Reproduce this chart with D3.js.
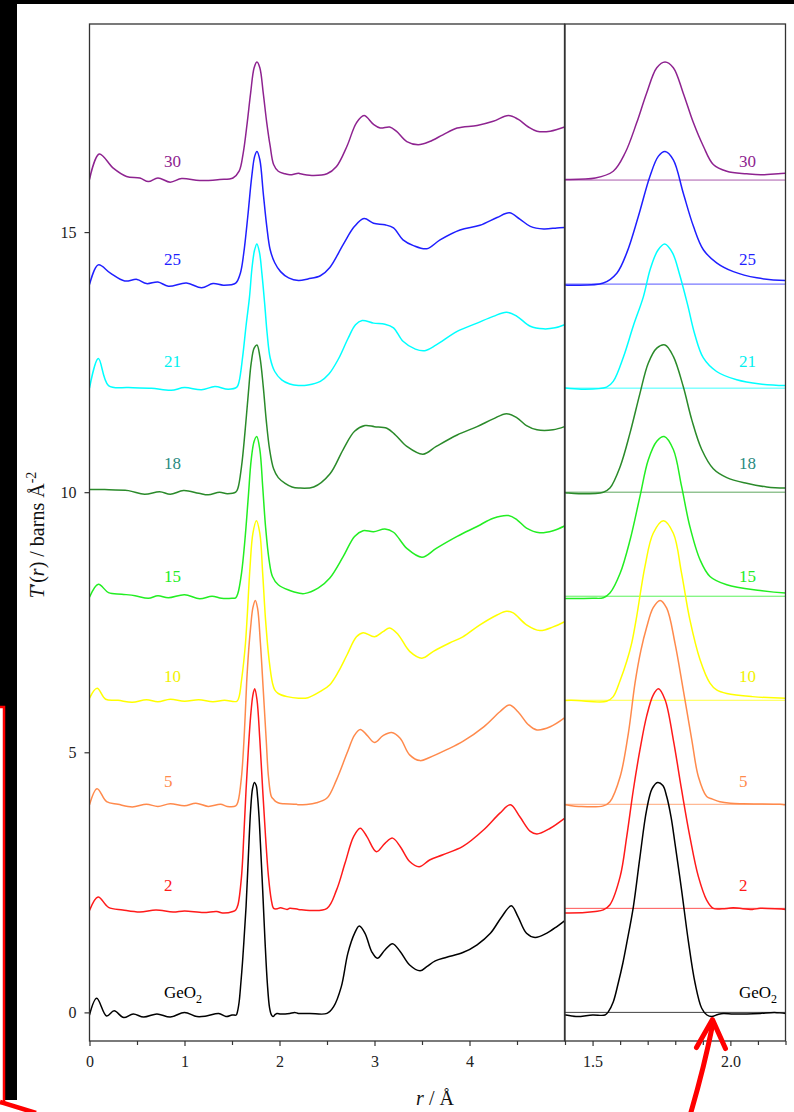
<!DOCTYPE html>
<html>
<head>
<meta charset="utf-8">
<script src="https://cdn.jsdelivr.net/npm/d3@7"></script>
<style>
  html, body { margin: 0; padding: 0; background: #fff; }
  svg { display: block; }
</style>
</head>
<body>
<svg id="fig" width="794" height="1112"></svg>
<script>
// ---- series: T'(r) in barns Å^-2, each curve listed as [r (Å), T'(r)] ----
const seriesNames   = ["GeO2", "2", "5", "10", "15", "18", "21", "25", "30"];
const seriesOffsets = [0, 2, 4, 6, 8, 10, 12, 14, 16];

const curveGeO2 = [[0,-0.05],[0.076,0.27],[0.18,-0.07],[0.26,0.03],[0.36,-0.1],[0.46,-0.03],[0.57,-0.09],[0.71,-0.03],[0.85,-0.09],[1.0,0.0],[1.13,-0.08],[1.23,-0.07],[1.36,-0.02],[1.44,-0.08],[1.5,-0.05],[1.545,-0.05],[1.557,0.01],[1.575,0.2],[1.593,0.56],[1.61,0.95],[1.624,1.33],[1.648,2.03],[1.672,2.99],[1.696,3.89],[1.716,4.3],[1.736,4.42],[1.755,4.36],[1.769,4.15],[1.785,3.75],[1.799,3.25],[1.823,2.35],[1.847,1.39],[1.872,0.56],[1.896,0.08],[1.915,-0.05],[1.932,-0.08],[1.955,-0.04],[1.974,-0.02],[2.01,-0.03],[2.06,-0.03],[2.108,-0.02],[2.16,0.0],[2.2,-0.02],[2.32,-0.02],[2.5,-0.02],[2.57,0.11],[2.65,0.49],[2.72,1.14],[2.79,1.52],[2.84,1.66],[2.9,1.52],[2.97,1.17],[3.03,1.04],[3.11,1.2],[3.19,1.32],[3.27,1.17],[3.37,0.91],[3.48,0.8],[3.55,0.88],[3.64,0.99],[3.76,1.06],[3.93,1.15],[4.08,1.3],[4.22,1.52],[4.34,1.84],[4.44,2.05],[4.51,1.84],[4.6,1.52],[4.69,1.44],[4.81,1.52],[4.92,1.65],[5.0,1.76]];

const curve2 = [[0,-0.04],[0.09,0.22],[0.2,0.02],[0.35,-0.03],[0.53,-0.07],[0.7,-0.03],[0.88,-0.07],[1.0,-0.05],[1.2,-0.08],[1.34,-0.06],[1.4,-0.09],[1.51,-0.06],[1.539,-0.03],[1.563,0.07],[1.6,0.61],[1.624,1.38],[1.648,2.28],[1.672,3.05],[1.696,3.69],[1.72,4.1],[1.739,4.22],[1.763,4.01],[1.793,3.24],[1.823,2.28],[1.853,1.38],[1.884,0.61],[1.914,0.16],[1.938,0.0],[1.97,-0.01],[2.01,0.01],[2.08,-0.02],[2.108,0.0],[2.2,-0.02],[2.32,-0.04],[2.5,0.0],[2.6,0.35],[2.69,0.87],[2.78,1.38],[2.85,1.54],[2.92,1.38],[3.02,1.09],[3.11,1.25],[3.19,1.35],[3.27,1.19],[3.37,0.9],[3.47,0.8],[3.58,0.93],[3.72,1.03],[3.93,1.19],[4.15,1.51],[4.32,1.83],[4.43,1.99],[4.53,1.76],[4.64,1.48],[4.71,1.43],[4.85,1.54],[5.0,1.73]];

const curve5 = [[0,-0.01],[0.08,0.3],[0.18,0.05],[0.3,0.0],[0.45,-0.05],[0.6,0.0],[0.72,-0.04],[0.85,0.01],[1.0,-0.03],[1.12,0.02],[1.25,-0.04],[1.38,0.0],[1.45,-0.04],[1.539,-0.03],[1.563,0.05],[1.6,0.53],[1.63,1.37],[1.654,2.33],[1.675,2.95],[1.696,3.4],[1.72,3.78],[1.745,3.92],[1.769,3.77],[1.799,3.1],[1.829,2.2],[1.86,1.24],[1.884,0.53],[1.914,0.15],[1.935,0.1],[1.962,0.05],[2.0,0.02],[2.047,0.01],[2.18,0.0],[2.2,-0.01],[2.39,0.03],[2.5,0.12],[2.6,0.47],[2.71,0.98],[2.79,1.33],[2.85,1.44],[2.92,1.33],[3.0,1.19],[3.09,1.32],[3.18,1.38],[3.27,1.27],[3.37,0.95],[3.48,0.84],[3.58,0.9],[3.76,1.05],[3.93,1.21],[4.15,1.49],[4.32,1.78],[4.42,1.91],[4.51,1.78],[4.62,1.53],[4.71,1.43],[4.85,1.49],[5.0,1.66]];

const curve10 = [[0,0.04],[0.08,0.23],[0.17,0.02],[0.3,0.0],[0.45,-0.04],[0.6,0.01],[0.72,-0.03],[0.85,0.02],[1.0,-0.02],[1.15,0.01],[1.3,-0.03],[1.42,0.0],[1.551,-0.02],[1.575,0.07],[1.6,0.38],[1.624,0.75],[1.642,1.1],[1.66,1.61],[1.69,2.57],[1.72,3.21],[1.757,3.45],[1.793,3.21],[1.823,2.44],[1.853,1.55],[1.89,0.78],[1.926,0.33],[1.95,0.2],[1.987,0.13],[2.08,0.07],[2.2,0.04],[2.3,0.05],[2.43,0.17],[2.53,0.3],[2.62,0.55],[2.71,0.87],[2.81,1.22],[2.88,1.3],[3.0,1.22],[3.09,1.32],[3.16,1.39],[3.25,1.26],[3.37,0.94],[3.5,0.81],[3.62,0.94],[3.79,1.1],[3.93,1.22],[4.11,1.45],[4.29,1.64],[4.39,1.71],[4.46,1.68],[4.6,1.45],[4.74,1.34],[4.88,1.41],[5.0,1.51]];

const curve15 = [[0,-0.02],[0.093,0.23],[0.2,0.07],[0.34,0.04],[0.48,0.01],[0.62,-0.04],[0.72,0.01],[0.83,-0.03],[1.0,0.03],[1.16,-0.05],[1.29,0.0],[1.39,-0.04],[1.5,-0.04],[1.539,-0.03],[1.563,0.06],[1.6,0.44],[1.636,1.08],[1.672,1.92],[1.702,2.62],[1.733,2.98],[1.76,3.07],[1.793,2.82],[1.823,2.11],[1.853,1.34],[1.89,0.7],[1.926,0.38],[1.987,0.22],[2.108,0.11],[2.2,0.06],[2.26,0.05],[2.41,0.16],[2.53,0.35],[2.67,0.76],[2.79,1.15],[2.88,1.26],[2.99,1.24],[3.11,1.29],[3.2,1.23],[3.34,0.92],[3.5,0.75],[3.65,0.92],[3.87,1.15],[4.08,1.34],[4.25,1.5],[4.41,1.55],[4.5,1.47],[4.6,1.31],[4.74,1.22],[4.88,1.26],[5.0,1.35]];

const curve18 = [[0,0.05],[0.16,0.05],[0.41,0.03],[0.58,-0.04],[0.74,0.01],[0.85,-0.04],[0.99,0.03],[1.15,-0.02],[1.25,-0.05],[1.37,0.0],[1.45,-0.03],[1.539,0.0],[1.563,0.08],[1.6,0.49],[1.636,1.14],[1.672,1.9],[1.702,2.48],[1.733,2.77],[1.763,2.83],[1.793,2.61],[1.829,2.03],[1.86,1.39],[1.896,0.82],[1.938,0.45],[1.987,0.28],[2.059,0.17],[2.132,0.1],[2.2,0.08],[2.36,0.1],[2.53,0.35],[2.67,0.82],[2.79,1.17],[2.9,1.28],[3.0,1.26],[3.13,1.23],[3.22,1.1],[3.34,0.88],[3.51,0.73],[3.65,0.88],[3.87,1.1],[4.08,1.26],[4.25,1.41],[4.39,1.51],[4.5,1.43],[4.6,1.28],[4.71,1.2],[4.88,1.2],[5.0,1.26]];

const curve21 = [[0,0.0],[0.093,0.57],[0.2,0.05],[0.41,0.01],[0.65,0.0],[0.86,-0.04],[1.0,0.01],[1.18,-0.03],[1.32,0.03],[1.46,-0.02],[1.551,0.02],[1.575,0.13],[1.612,0.6],[1.648,1.2],[1.684,1.75],[1.71,2.3],[1.737,2.65],[1.762,2.77],[1.79,2.6],[1.815,2.2],[1.845,1.6],[1.87,1.05],[1.902,0.58],[1.95,0.32],[2.023,0.16],[2.108,0.08],[2.2,0.05],[2.3,0.06],[2.43,0.13],[2.52,0.27],[2.62,0.56],[2.72,0.95],[2.8,1.22],[2.87,1.3],[2.99,1.25],[3.11,1.23],[3.2,1.16],[3.3,0.9],[3.43,0.75],[3.53,0.72],[3.65,0.83],[3.87,1.09],[4.08,1.25],[4.25,1.38],[4.39,1.46],[4.5,1.38],[4.64,1.19],[4.78,1.14],[4.9,1.16],[5.0,1.22]];

const curve25 = [[0,-0.01],[0.093,0.37],[0.22,0.21],[0.37,0.06],[0.5,0.09],[0.6,0.01],[0.72,0.04],[0.83,-0.04],[1.02,0.02],[1.18,-0.07],[1.3,0.01],[1.41,-0.02],[1.539,0.02],[1.588,0.21],[1.624,0.6],[1.666,1.3],[1.708,2.07],[1.739,2.46],[1.763,2.55],[1.793,2.39],[1.829,1.75],[1.866,1.11],[1.902,0.66],[1.95,0.41],[2.011,0.24],[2.096,0.12],[2.2,0.07],[2.3,0.1],[2.43,0.16],[2.53,0.32],[2.67,0.76],[2.79,1.11],[2.89,1.26],[2.99,1.17],[3.11,1.14],[3.2,1.08],[3.3,0.85],[3.41,0.74],[3.55,0.68],[3.69,0.85],[3.9,1.04],[4.11,1.13],[4.29,1.28],[4.42,1.37],[4.53,1.25],[4.64,1.11],[4.78,1.06],[4.92,1.08],[5.0,1.09]];

const curve30 = [[0,0.01],[0.103,0.5],[0.25,0.23],[0.39,0.07],[0.53,0.04],[0.62,-0.03],[0.72,0.04],[0.85,-0.04],[0.97,0.03],[1.16,-0.01],[1.37,0.01],[1.51,0.04],[1.575,0.17],[1.618,0.52],[1.66,1.1],[1.696,1.67],[1.733,2.16],[1.763,2.27],[1.793,2.16],[1.829,1.67],[1.866,1.1],[1.902,0.65],[1.938,0.3],[1.987,0.17],[2.059,0.12],[2.11,0.1],[2.2,0.13],[2.22,0.12],[2.34,0.09],[2.5,0.12],[2.6,0.26],[2.71,0.65],[2.81,1.1],[2.89,1.24],[2.99,1.07],[3.06,1.0],[3.16,1.02],[3.23,0.94],[3.34,0.74],[3.46,0.68],[3.58,0.74],[3.72,0.87],[3.87,1.0],[4.08,1.05],[4.25,1.13],[4.41,1.24],[4.51,1.17],[4.62,1.02],[4.71,0.94],[4.85,0.94],[5.0,1.02]];

const seriesCurves = [curveGeO2, curve2, curve5, curve10, curve15, curve18, curve21, curve25, curve30];

// axis ticks
const yTicks          = [0, 5, 10, 15];
const xTicksMain      = [0, 1, 2, 3, 4];
const xTicksMainMinor = [0.5, 1.5, 2.5, 3.5, 4.5];
const xTicksZoom      = [1.5, 2.0];
const xTicksZoomMinor = [1.4, 1.6, 1.7, 1.8, 1.9, 2.1, 2.2];

// ---- styling ----
const lineColors  = ["#000000", "#ff1a1a", "#ff8a4c", "#ffff00", "#22ee22", "#2a8a2a", "#00ffff", "#1f1fff", "#8e2390"];
const labelColors = ["#000000", "#ff1a1a", "#ff8a4c", "#f2f200", "#22ee22", "#2a8a80", "#00f0f0", "#1f1fff", "#8e2390"];
const labelLift   = [14, 17, 17, 18, 14, 23, 21, 19, 13];   // px above each curve's zero line
const FONT = "'Liberation Serif', 'Times New Roman', serif";

const svg = d3.select("#fig");

// page furniture around the figure
svg.append("rect").attr("x", 0).attr("y", 0).attr("width", 794).attr("height", 1112).attr("fill", "#fff");
svg.append("rect").attr("x", 0).attr("y", 0).attr("width", 17).attr("height", 1100).attr("fill", "#000");
svg.append("rect").attr("x", 0).attr("y", 0).attr("width", 794).attr("height", 4).attr("fill", "#000");
svg.append("rect").attr("x", -6).attr("y", 707).attr("width", 10).attr("height", 396)
   .attr("fill", "#fff").attr("stroke", "#ff0000").attr("stroke-width", 2.5);
svg.append("line").attr("x1", 0).attr("y1", 1102).attr("x2", 36).attr("y2", 1113)
   .attr("stroke", "#ff0000").attr("stroke-width", 4.5);

// ---- scales ----
const plotLeft = 89.5, plotMid = 564.5, plotRight = 785.5, plotTop = 24, plotBottom = 1041;
const xMain = d3.scaleLinear().domain([0, 5]).range([plotLeft, plotMid]);
const xZoom = d3.scaleLinear().domain([1.4, 2.2]).range([plotMid + 0.5, plotRight]);
const y = d3.scaleLinear().domain([-0.55, 19.0]).range([plotBottom, plotTop]);

const defs = svg.append("defs");
defs.append("clipPath").attr("id", "clipMain").append("rect")
    .attr("x", plotLeft).attr("y", plotTop).attr("width", plotMid - plotLeft).attr("height", plotBottom - plotTop);
defs.append("clipPath").attr("id", "clipZoom").append("rect")
    .attr("x", plotMid + 0.5).attr("y", plotTop).attr("width", plotRight - plotMid - 0.5).attr("height", plotBottom - plotTop);

function lineFor(xs, off) {
  return d3.line()
    .x(d => xs(d[0]))
    .y(d => y(d[1] + off))
    .curve(d3.curveCatmullRom.alpha(0.5));
}

// ---- main panel ----
const gMain = svg.append("g").attr("clip-path", "url(#clipMain)");
seriesCurves.forEach((pts, i) => {
  gMain.append("path")
    .attr("d", lineFor(xMain, seriesOffsets[i])(pts))
    .attr("fill", "none")
    .attr("stroke", lineColors[i])
    .attr("stroke-width", 1.5)
    .attr("stroke-linejoin", "round");
});

// ---- zoomed panel: zero lines then curves ----
const gZoom = svg.append("g").attr("clip-path", "url(#clipZoom)");
seriesOffsets.forEach((off, i) => {
  gZoom.append("line")
    .attr("x1", xZoom(1.4)).attr("x2", xZoom(2.2))
    .attr("y1", y(off)).attr("y2", y(off))
    .attr("stroke", lineColors[i]).attr("stroke-width", 1).attr("stroke-opacity", 0.75);
});
seriesCurves.forEach((pts, i) => {
  gZoom.append("path")
    .attr("d", lineFor(xZoom, seriesOffsets[i])(pts))
    .attr("fill", "none")
    .attr("stroke", lineColors[i])
    .attr("stroke-width", 1.5)
    .attr("stroke-linejoin", "round");
});

// ---- curve labels ----
function addLabel(x, i) {
  const t = svg.append("text")
    .attr("x", x).attr("y", y(seriesOffsets[i]) - labelLift[i])
    .attr("font-family", FONT).attr("font-size", 17)
    .attr("fill", labelColors[i]);
  if (seriesNames[i] === "GeO2") {
    t.append("tspan").text("GeO");
    t.append("tspan").attr("font-size", 12).attr("dy", 5).text("2");
  } else {
    t.text(seriesNames[i]);
  }
}
seriesNames.forEach((_, i) => { addLabel(164, i); addLabel(739, i); });

// ---- frames ----
svg.append("rect").attr("x", plotLeft).attr("y", plotTop).attr("width", plotMid - plotLeft).attr("height", plotBottom - plotTop)
   .attr("fill", "none").attr("stroke", "#333").attr("stroke-width", 1.3);
svg.append("rect").attr("x", plotMid + 0.5).attr("y", plotTop).attr("width", plotRight - plotMid - 0.5).attr("height", plotBottom - plotTop)
   .attr("fill", "none").attr("stroke", "#333").attr("stroke-width", 1.3);

// ---- axes ----
function styleAxis(g) {
  g.select(".domain").remove();
  g.selectAll("line").attr("stroke", "#333").attr("stroke-width", 1.2);
  g.selectAll("text").attr("font-family", FONT).attr("font-size", 16).attr("fill", "#222");
}
svg.append("g").attr("transform", `translate(0,${plotBottom})`)
   .call(d3.axisBottom(xMain).tickValues(xTicksMain).tickSize(5).tickPadding(10).tickFormat(d3.format("d")))
   .call(styleAxis);
svg.append("g").attr("transform", `translate(0,${plotBottom})`)
   .call(d3.axisBottom(xMain).tickValues(xTicksMainMinor).tickSize(4).tickFormat(""))
   .call(styleAxis);
svg.append("g").attr("transform", `translate(0,${plotBottom})`)
   .call(d3.axisBottom(xZoom).tickValues(xTicksZoom).tickSize(5).tickPadding(10).tickFormat(d3.format(".1f")))
   .call(styleAxis);
svg.append("g").attr("transform", `translate(0,${plotBottom})`)
   .call(d3.axisBottom(xZoom).tickValues(xTicksZoomMinor).tickSize(4).tickFormat(""))
   .call(styleAxis);
svg.append("g").attr("transform", `translate(${plotLeft},0)`)
   .call(d3.axisLeft(y).tickValues(yTicks).tickSize(5).tickPadding(8).tickFormat(d3.format("d")))
   .call(styleAxis);

// ---- axis titles ----
const yt = svg.append("text")
  .attr("transform", "translate(44,535) rotate(-90)")
  .attr("text-anchor", "middle")
  .attr("font-family", FONT).attr("font-size", 20).attr("fill", "#111");
yt.append("tspan").attr("font-style", "italic").text("T");
yt.append("tspan").text("′(");
yt.append("tspan").attr("font-style", "italic").text("r");
yt.append("tspan").text(") / barns Å");
yt.append("tspan").attr("font-size", 14).attr("dy", -8).text("-2");

const xt = svg.append("text")
  .attr("x", 435).attr("y", 1105)
  .attr("text-anchor", "middle")
  .attr("font-family", FONT).attr("font-size", 20).attr("fill", "#111");
xt.append("tspan").attr("font-style", "italic").text("r");
xt.append("tspan").text(" / Å");

// ---- red arrow pointing at the first minimum after the Ge–O peak ----
const tip = [xZoom(1.935), y(-0.08) + 3];
svg.append("path")
   .attr("d", `M${tip[0] - 22},1114 Q${tip[0] - 8},1066 ${tip[0]},${tip[1] + 6}`)
   .attr("fill", "none").attr("stroke", "#ff0000").attr("stroke-width", 5).attr("stroke-linecap", "round");
svg.append("path")
   .attr("d", `M${tip[0] - 16},${tip[1] + 28} L${tip[0]},${tip[1]} L${tip[0] + 13},${tip[1] + 29}`)
   .attr("fill", "none").attr("stroke", "#ff0000").attr("stroke-width", 5)
   .attr("stroke-linecap", "round").attr("stroke-linejoin", "round");
</script>
</body>
</html>
